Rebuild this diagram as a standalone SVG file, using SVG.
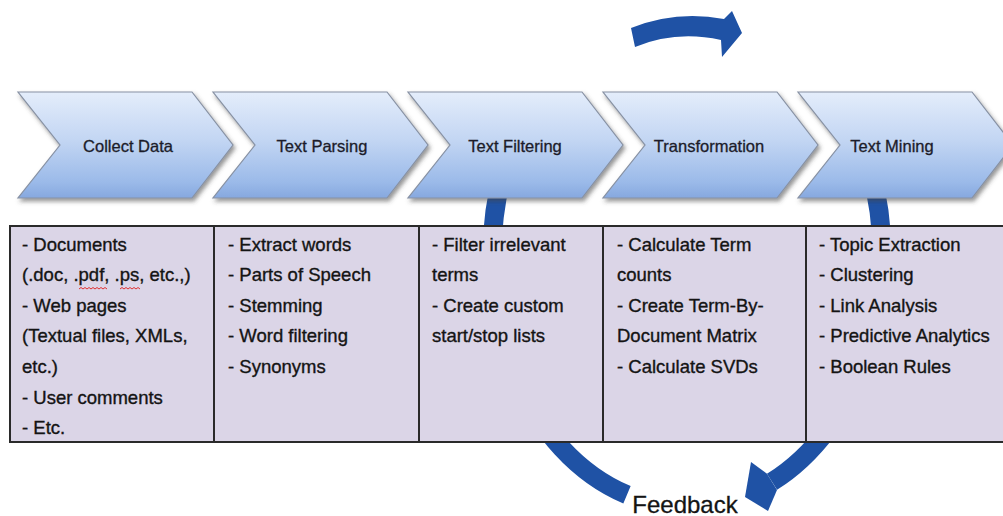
<svg xmlns="http://www.w3.org/2000/svg" width="1003" height="516" viewBox="0 0 1003 516">
<defs>
<linearGradient id="chev" x1="0" y1="0" x2="0" y2="1">
<stop offset="0" stop-color="#e4edfb"/>
<stop offset="0.45" stop-color="#c3d6f3"/>
<stop offset="0.85" stop-color="#9bbae9"/>
<stop offset="1" stop-color="#86a8df"/>
</linearGradient>
<filter id="sh" x="-10%" y="-10%" width="130%" height="140%">
<feDropShadow dx="2" dy="3" stdDeviation="2" flood-color="#404040" flood-opacity="0.55"/>
</filter>
<path id="chevShape" d="M0,92 L174,92 L215,145 L174,198 L0,198 L42,145 Z"/>
</defs>
<style>
.chev{fill:url(#chev);stroke:#8791a3;stroke-width:1.2;filter:url(#sh)}
.lbl{font-family:"Liberation Sans",Arial,sans-serif;font-size:16.5px;fill:#1c1c2a;stroke:#1c1c2a;stroke-width:0.3;text-anchor:middle}
.cell{font-family:"Liberation Sans",Arial,sans-serif;font-size:18.5px;fill:#141414;stroke:#141414;stroke-width:0.35}
.arc{fill:none;stroke:#1f52a5;stroke-width:19}
.head{fill:#1f52a5}
.grid{stroke:#2a2a2a;stroke-width:2;fill:none}
.tbl{fill:#dbd5e7;stroke:#2a2a2a;stroke-width:2}
.sq{fill:none;stroke:#e03030;stroke-width:1}
</style>

<g id="connectors">
<path id="feedback-left" class="arc" d="M503.8,168.8 A195 252 0 0 0 627,494.8"/>
<path id="feedback-right" class="arc" d="M870.2,168.8 A195 252 0 0 1 772,481.8"/>
<polygon class="head" points="767,473.7 751,462 745,497 768,511 777,490"/>
<path id="flow-arrow" class="head" d="M631,28 Q676,10 724,19 L732,11 L742,33 L722,57 L721,40 Q676,30 635,47 Z"/>
</g>

<g id="collect-data">
<use href="#chevShape" class="chev" x="18"/>
<text class="lbl" x="128" y="152">Collect Data</text>
</g>
<g id="text-parsing">
<use href="#chevShape" class="chev" x="213"/>
<text class="lbl" x="322" y="152">Text Parsing</text>
</g>
<g id="text-filtering">
<use href="#chevShape" class="chev" x="408"/>
<text class="lbl" x="515" y="152">Text Filtering</text>
</g>
<g id="transformation">
<use href="#chevShape" class="chev" x="603"/>
<text class="lbl" x="709" y="152">Transformation</text>
</g>
<g id="text-mining">
<use href="#chevShape" class="chev" x="798"/>
<text class="lbl" x="892" y="152">Text Mining</text>
</g>

<g id="table">
<rect class="tbl" x="10" y="226" width="1003" height="216"/>
<line class="grid" x1="214" y1="226" x2="214" y2="442"/>
<line class="grid" x1="419" y1="226" x2="419" y2="442"/>
<line class="grid" x1="603" y1="226" x2="603" y2="442"/>
<line class="grid" x1="806" y1="226" x2="806" y2="442"/>
</g>

<g id="collect-data-details">
<text class="cell" x="22" y="250.5">- Documents</text>
<text class="cell" x="22" y="281.1">(.doc, .pdf, .ps, etc.,)</text>
<text class="cell" x="22" y="311.7">- Web pages</text>
<text class="cell" x="22" y="342.3">(Textual files, XMLs,</text>
<text class="cell" x="22" y="372.9">etc.)</text>
<text class="cell" x="22" y="403.5">- User comments</text>
<text class="cell" x="22" y="434.1">- Etc.</text>
<path class="sq" d="M79,289 l2,-1.5 l2,1.5 l2,-1.5 l2,1.5 l2,-1.5 l2,1.5 l2,-1.5 l2,1.5 l2,-1.5 l2,1.5 l2,-1.5 l2,1.5 l2,-1.5 l2,1.5"/>
<path class="sq" d="M120,289 l2,-1.5 l2,1.5 l2,-1.5 l2,1.5 l2,-1.5 l2,1.5 l2,-1.5 l2,1.5 l2,-1.5 l2,1.5"/>
</g>
<g id="text-parsing-details">
<text class="cell" x="228" y="250.5">- Extract words</text>
<text class="cell" x="228" y="281.1">- Parts of Speech</text>
<text class="cell" x="228" y="311.7">- Stemming</text>
<text class="cell" x="228" y="342.3">- Word filtering</text>
<text class="cell" x="228" y="372.9">- Synonyms</text>
</g>
<g id="text-filtering-details">
<text class="cell" x="432" y="250.5">- Filter irrelevant</text>
<text class="cell" x="432" y="281.1">terms</text>
<text class="cell" x="432" y="311.7">- Create custom</text>
<text class="cell" x="432" y="342.3">start/stop lists</text>
</g>
<g id="transformation-details">
<text class="cell" x="617" y="250.5">- Calculate Term</text>
<text class="cell" x="617" y="281.1">counts</text>
<text class="cell" x="617" y="311.7">- Create Term-By-</text>
<text class="cell" x="617" y="342.3">Document Matrix</text>
<text class="cell" x="617" y="372.9">- Calculate SVDs</text>
</g>
<g id="text-mining-details">
<text class="cell" x="819" y="250.5">- Topic Extraction</text>
<text class="cell" x="819" y="281.1">- Clustering</text>
<text class="cell" x="819" y="311.7">- Link Analysis</text>
<text class="cell" x="819" y="342.3">- Predictive Analytics</text>
<text class="cell" x="819" y="372.9">- Boolean Rules</text>
</g>

<g id="feedback">
<text x="685" y="513" font-family="'Liberation Sans',Arial,sans-serif" font-size="24" fill="#141414" stroke="#141414" stroke-width="0.3" text-anchor="middle">Feedback</text>
</g>
</svg>
